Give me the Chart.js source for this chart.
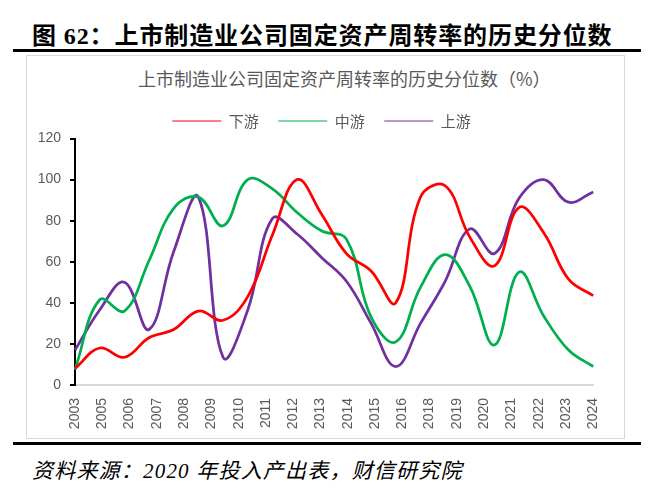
<!DOCTYPE html>
<html lang="zh">
<head>
<meta charset="utf-8">
<title>上市制造业公司固定资产周转率的历史分位数</title>
<script src="https://cdn.jsdelivr.net/npm/chart.js@4.4.1/dist/chart.umd.min.js"></script>
<style>
  body { margin: 0; width: 658px; height: 502px; background: #fff; position: relative; overflow: hidden; }
  #titulo { position: absolute; left: 32px; top: 23px; font: bold 24px "Liberation Serif", "Noto Sans CJK SC", serif; letter-spacing: 0.9px; line-height: 26px; color: #000; white-space: nowrap; }
  .regla { position: absolute; left: 13px; width: 628px; height: 3px; background: #000; }
  #marco { position: absolute; left: 26px; top: 55px; width: 599px; height: 384px; box-sizing: border-box; border: 1.5px solid #d9d9d9; }
  #contenedor { position: absolute; left: 28px; top: 57px; width: 595px; height: 380px; }
  #subtitulo { position: absolute; left: 138px; top: 67px; font: 18px "Noto Sans CJK SC", sans-serif; color: #595959; line-height: 22px; white-space: nowrap; }
  #fuente { position: absolute; left: 32px; top: 459px; font: italic 21px "Liberation Serif", "Noto Sans CJK SC", serif; letter-spacing: 1.2px; line-height: 24px; color: #000; white-space: nowrap; }
</style>
</head>
<body>
<div id="titulo">图 62：上市制造业公司固定资产周转率的历史分位数</div>
<div class="regla" style="top:49px"></div>
<div id="marco"></div>
<div id="subtitulo">上市制造业公司固定资产周转率的历史分位数（%）</div>
<div id="contenedor"><canvas id="grafico"></canvas></div>
<div class="regla" style="top:442px"></div>
<div id="fuente">资料来源：2020 年投入产出表，财信研究院</div>

<script>
// puntos de datos: un valor por año
const anios = ["2003", "2004", "2005", "2006", "2007", "2008", "2009", "2010", "2011", "2012", "2013",
  "2014", "2015", "2016", "2017", "2018", "2019", "2020", "2021", "2022", "2023", "2024"];

// etiquetas que muestra el eje (en el original faltan 2004 y 2017)
const etiquetasEje = ["2003", "2005", "2006", "2007", "2008", "2009", "2010", "2011", "2012", "2013",
  "2014", "2015", "2016", "2018", "2019", "2020", "2021", "2022", "2023", "2024"];

const yTicks = [0, 20, 40, 60, 80, 100, 120];

const xiayou = [8, 18, 13.5, 23, 27, 36, 31.5, 43, 73, 100, 83, 64, 55.5, 40, 91.5, 97, 72, 58, 86.5, 74, 51.5, 43.5];
const zhongyou = [7.5, 41.5, 36, 60.5, 86, 91.5, 77.5, 100, 95.5, 84, 75, 71, 33, 21, 47.5, 63.5, 48, 19.5, 55, 33.5, 17, 9];
const shangyou = [17, 36.5, 50, 27, 65, 91.5, 13.5, 36.5, 81, 73.5, 62, 50.5, 30, 9, 30, 50.5, 76, 64, 91, 100, 89, 94];

const fuenteEjes = { family: "'Liberation Sans', Arial, sans-serif", size: 14 };

const ctx = document.getElementById("grafico").getContext("2d");

new Chart(ctx, {
  type: "line",
  data: {
    labels: anios,
    datasets: [
      { label: "下游", data: xiayou, borderColor: "#ff0000", backgroundColor: "#ff0000", xAxisID: "x", yAxisID: "y" },
      { label: "中游", data: zhongyou, borderColor: "#00b050", backgroundColor: "#00b050", xAxisID: "x", yAxisID: "y" },
      { label: "上游", data: shangyou, borderColor: "#7030a0", backgroundColor: "#7030a0", xAxisID: "x", yAxisID: "y" }
    ]
  },
  options: {
    responsive: true,
    maintainAspectRatio: false,
    animation: false,
    layout: { padding: { left: 9, right: 17, top: 37, bottom: 8 } },
    elements: {
      line: { borderWidth: 2.75, tension: 0.4 },
      point: { radius: 0, hoverRadius: 0 }
    },
    plugins: {
      title: { display: false },
      tooltip: { enabled: false },
      legend: {
        position: "top",
        labels: {
          usePointStyle: true,
          pointStyle: "line",
          pointStyleWidth: 49,
          padding: 19.5,
          color: "#595959",
          font: { family: "'Noto Sans CJK SC', sans-serif", size: 15 }
        }
      }
    },
    scales: {
      x: { type: "category", display: false },
      ejeX: {
        type: "category",
        axis: "x",
        position: "bottom",
        labels: etiquetasEje,
        offset: false,
        grid: { display: false, drawTicks: false },
        border: { color: "#d9d9d9", width: 2 },
        ticks: { autoSkip: false, minRotation: 90, maxRotation: 90, padding: 13, color: "#595959", font: fuenteEjes },
        afterFit: eje => { eje.height = 44; }
      },
      y: {
        min: 0,
        max: 120,
        afterBuildTicks: eje => { eje.ticks = yTicks.map(v => ({ value: v })); },
        ticks: { padding: 9, color: "#595959", font: fuenteEjes },
        grid: { drawOnChartArea: false, drawTicks: true, tickLength: 5, color: "#000", lineWidth: 2 },
        border: { color: "#000", width: 2 },
        afterFit: eje => { eje.width = 38; }
      }
    }
  }
});
</script>
</body>
</html>
